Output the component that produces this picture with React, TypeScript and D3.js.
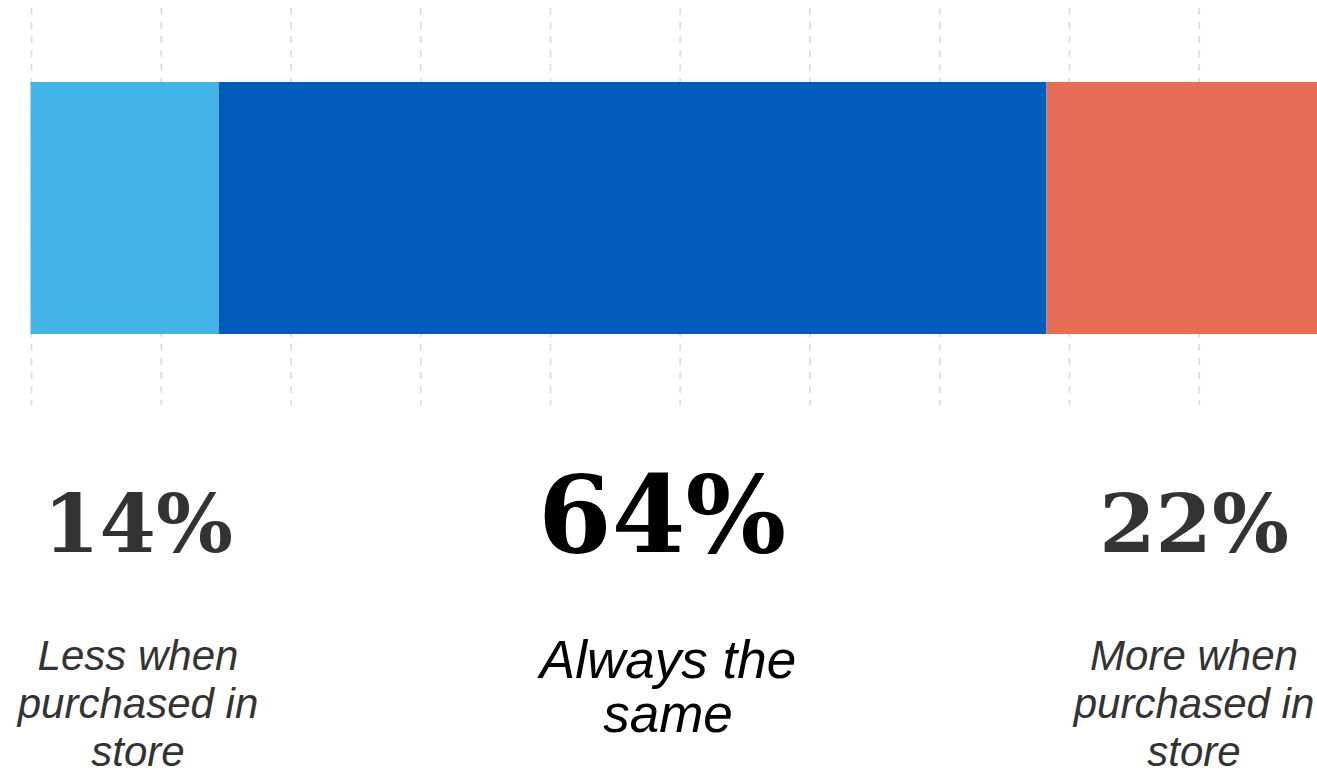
import React from "react";
import * as d3 from "d3";

const categories = ["Less when purchased in store", "Always the same", "More when purchased in store"];
const barValues = [14.5, 63.8, 21.7];
const percentLabels = ["14%", "64%", "22%"];
const labelLines = [["Less when", "purchased in", "store"], ["Always the", "same"], ["More when", "purchased in", "store"]];
const colors = ["#42b4e5", "#005bb9", "#e56d55"];
const gridTicks = d3.range(0, 100, 10);

const W = 1317;
const H = 774;

export default function App() {
  const x = d3.scaleLinear().domain([0, 100]).range([30.5, 1328]);
  const stack = d3.cumsum(barValues);
  const segs = barValues.map((v, i) => ({ v, start: stack[i] - v, end: stack[i], i }));
  const colX = d3.scalePoint<number>().domain([0, 1, 2]).range([138, 1194]);
  const bigIdx = 1;

  return (
    <svg width={W} height={H} style={{ position: "absolute", left: 0, top: 0, background: "#fff" }}>
      <g>
        {gridTicks.map((t) => (
          <line key={t} x1={x(t) + 1} x2={x(t) + 1} y1={8} y2={405} stroke="#dedede" strokeWidth={1.8} strokeDasharray="7,7" />
        ))}
      </g>
      <g>
        {segs.map((s) => (
          <rect key={s.i} x={x(s.start)} y={82} width={x(s.end) - x(s.start)} height={252} fill={colors[s.i]} />
        ))}
      </g>
      <g>
        {percentLabels.map((p, i) => (
          <text
            key={i}
            x={i === bigIdx ? 662 : colX(i)}
            y={552}
            textAnchor="middle"
            fontFamily="'DejaVu Serif', serif"
            fontWeight="bold"
            fontSize={i === bigIdx ? 106 : 81}
            fill={i === bigIdx ? "#000" : "#333"}
          >
            {p}
          </text>
        ))}
      </g>
      <g>
        {labelLines.map((lines, i) => (
          <text
            key={i}
            textAnchor="middle"
            fontFamily="'Liberation Sans', Arial, sans-serif"
            fontStyle="italic"
            fontSize={i === bigIdx ? 53 : 42}
            fill={i === bigIdx ? "#000" : "#333"}
          >
            {lines.map((l, j) => (
              <tspan key={j} x={i === bigIdx ? 668 : colX(i)} y={(i === bigIdx ? 678 : 670) + j * (i === bigIdx ? 54 : 48)}>
                {l}
              </tspan>
            ))}
          </text>
        ))}
      </g>
      <title>{categories.join(", ")}</title>
    </svg>
  );
}
